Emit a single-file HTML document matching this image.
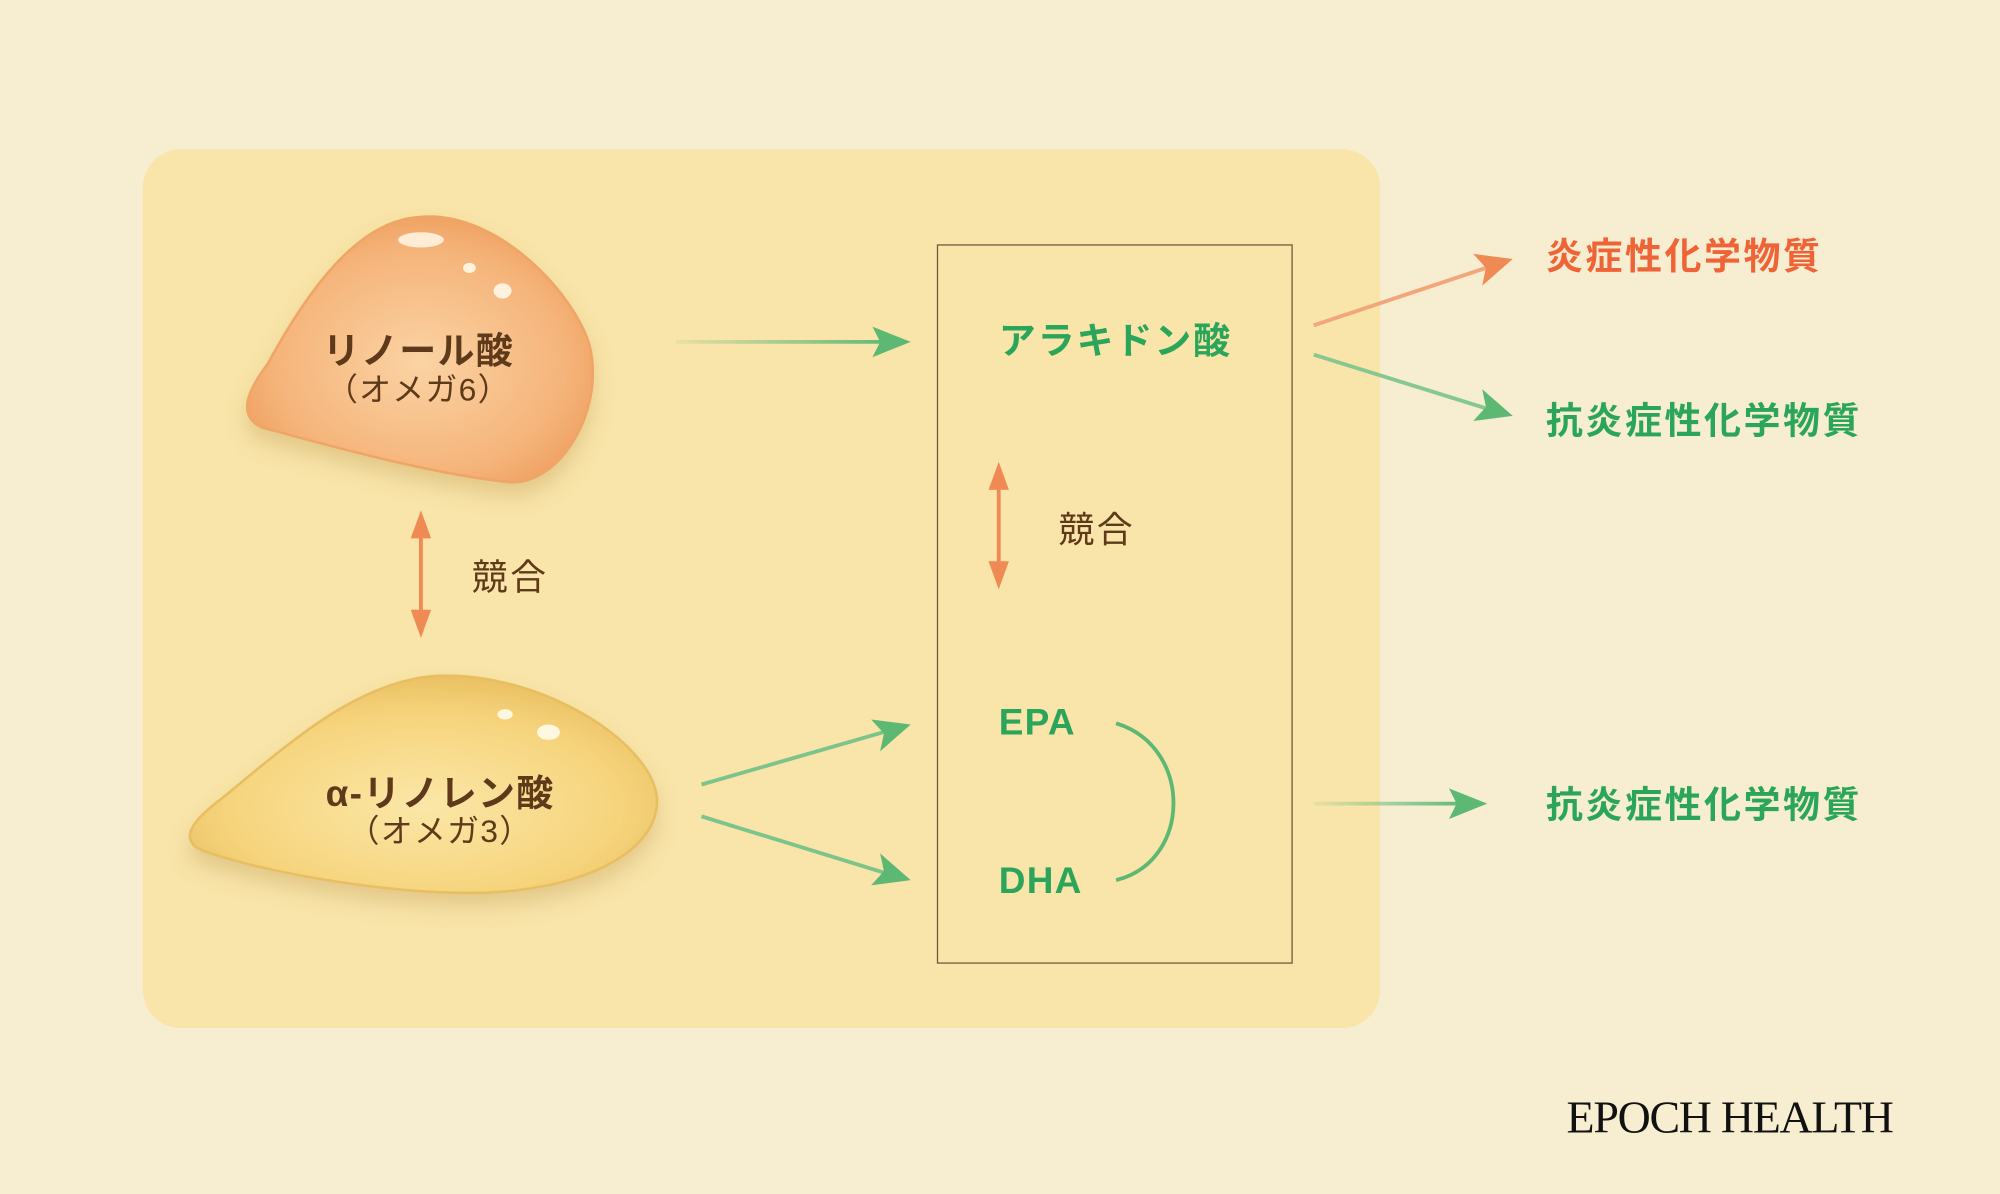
<!DOCTYPE html>
<html><head><meta charset="utf-8">
<style>
html,body{margin:0;padding:0;background:#F7EDD0;}
svg{display:block;}
text{font-family:"Liberation Sans","Noto Sans CJK JP",sans-serif;}
</style></head>
<body>
<svg width="2000" height="1194" viewBox="0 0 1568 936" xmlns="http://www.w3.org/2000/svg">
<defs>
<radialGradient id="g1" cx="0.5" cy="0.55" r="0.6">
<stop offset="0" stop-color="#FBD3A4"/><stop offset="0.7" stop-color="#F5B47A"/><stop offset="1" stop-color="#EE9C5C"/>
</radialGradient>
<radialGradient id="g2" cx="0.5" cy="0.6" r="0.6">
<stop offset="0" stop-color="#FBE7A8"/><stop offset="0.7" stop-color="#F6D47C"/><stop offset="1" stop-color="#EBC063"/>
</radialGradient>
<linearGradient id="ag1" gradientUnits="userSpaceOnUse" x1="530" y1="0" x2="700" y2="0"><stop offset="0" stop-color="#5DB874" stop-opacity="0.1"/><stop offset="1" stop-color="#5DB874"/></linearGradient>
<linearGradient id="ag2" gradientUnits="userSpaceOnUse" x1="1030" y1="0" x2="1150" y2="0"><stop offset="0" stop-color="#5DB874" stop-opacity="0.1"/><stop offset="1" stop-color="#5DB874"/></linearGradient>
<filter id="sh" x="-20%" y="-20%" width="140%" height="150%"><feDropShadow dx="0" dy="10" stdDeviation="8" flood-color="#B08A40" flood-opacity="0.3"/></filter>
</defs>
<rect width="1568" height="936" fill="#F7EDD0"/>
<rect x="112" y="117" width="970" height="689" rx="30" fill="#F9E4A9"/>
<rect x="735" y="192" width="278" height="563" fill="none" stroke="#6B5A3A" stroke-width="1"/>

<path filter="url(#sh)" d="M330 170 C390 165 450 230 462 270 C475 320 440 380 400 378 C340 372 260 350 205 335 C185 325 195 305 210 285 C240 230 280 172 330 170 Z" fill="url(#g1)" stroke="#EFA566" stroke-width="2"/>
<ellipse cx="330" cy="188" rx="18" ry="6" fill="#FFF3E0" opacity="0.9"/>
<ellipse cx="368" cy="210" rx="5" ry="4" fill="#FFF3E0"/>
<ellipse cx="394" cy="228" rx="7" ry="6" fill="#FFF3E0"/>
<path filter="url(#sh)" d="M340 530 C420 525 510 580 515 625 C518 670 450 700 370 700 C290 700 190 680 155 665 C140 655 155 640 175 625 C230 580 280 535 340 530 Z" fill="url(#g2)" stroke="#E8BE62" stroke-width="2"/>
<ellipse cx="396" cy="560" rx="6" ry="4" fill="#FFF8E0"/>
<ellipse cx="430" cy="574" rx="9" ry="6" fill="#FFF8E0"/>

<g fill="#5E3A1A" text-anchor="middle">
<text x="328" y="285" font-size="29" font-weight="bold" letter-spacing="1">リノール酸</text>
<text x="328" y="314" font-size="25" letter-spacing="1">（オメガ6）</text>
<text x="345" y="632" font-size="29" font-weight="bold" letter-spacing="1">α-リノレン酸</text>
<text x="345" y="660" font-size="25" letter-spacing="1">（オメガ3）</text>
<text x="400" y="462" font-size="28" letter-spacing="2">競合</text>
<text x="860" y="425" font-size="28" letter-spacing="2">競合</text>
</g>

<g stroke="#F08A55" stroke-width="3" fill="#F08A55">
<line x1="330" y1="410" x2="330" y2="490"/>
<path d="M330 400 L322 422 L338 422 Z" stroke="none"/>
<path d="M330 500 L322 478 L338 478 Z" stroke="none"/>
<line x1="783" y1="372" x2="783" y2="452"/>
<path d="M783 362 L775 384 L791 384 Z" stroke="none"/>
<path d="M783 462 L775 440 L791 440 Z" stroke="none"/>
</g>

<g fill="#2BA55A" font-weight="bold">
<text x="783" y="277" font-size="29" letter-spacing="1.5">アラキドン酸</text>
<text x="783" y="576" font-size="29" letter-spacing="1">EPA</text>
<text x="783" y="700" font-size="29" letter-spacing="1">DHA</text>
<text x="1212" y="340" font-size="29" letter-spacing="2">抗炎症性化学物質</text>
<text x="1212" y="641" font-size="29" letter-spacing="2">抗炎症性化学物質</text>
</g>
<text x="1212" y="211" font-size="29" font-weight="bold" fill="#EF6436" letter-spacing="2">炎症性化学物質</text>

<path d="M875 567 C935 585 935 675 875 690" fill="none" stroke="#5DB874" stroke-width="3"/>

<g stroke-width="3">
<line x1="530" y1="268" x2="695" y2="268" stroke="url(#ag1)"/>
<line x1="550" y1="615" x2="696" y2="573" stroke="#7CC48A"/>
<line x1="550" y1="640" x2="696" y2="685" stroke="#7CC48A"/>
<line x1="1030" y1="255" x2="1168" y2="209" stroke="#F3A67A"/>
<line x1="1030" y1="278" x2="1168" y2="321" stroke="#86C890"/>
<line x1="1030" y1="630" x2="1148" y2="630" stroke="url(#ag2)"/>
</g>
<g fill="#5DB874">
<path d="M714 268 L684 256 L690 268 L684 280 Z"/>
<path d="M714 568 L683 564 L693 575 L690 589 Z"/>
<path d="M714 690 L690 669 L693 683 L683 694 Z"/>
<path d="M1186 326 L1162 305 L1165 319 L1155 330 Z"/>
<path d="M1166 630 L1136 618 L1142 630 L1136 642 Z"/>
</g>
<path d="M1186 203 L1155 199 L1165 210 L1162 224 Z" fill="#F08A55"/>

<text x="1356" y="888" font-size="36" text-anchor="middle" fill="#111" style="font-family:'Liberation Serif',serif;letter-spacing:-1px">EPOCH HEALTH</text>
</svg>
</body></html>
